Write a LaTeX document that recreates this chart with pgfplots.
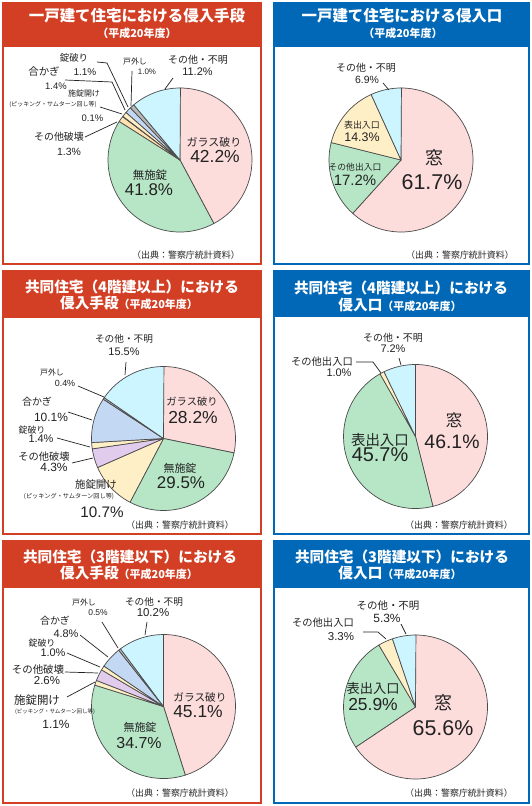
\documentclass[border=0pt]{standalone}
\usepackage{pgfplots}
\pgfplotsset{compat=1.18}
\usepackage{fontspec}
\setmainfont{Noto Sans CJK JP}
\newfontfamily\num{Liberation Sans}
\definecolor{cpink}{HTML}{FDDCDC}
\definecolor{cgreen}{HTML}{B6E6C6}
\definecolor{cyellow}{HTML}{FFEFC6}
\definecolor{corange}{HTML}{FFE2B0}
\definecolor{ccyan}{HTML}{CCF5FF}
\definecolor{clav}{HTML}{E2CCEE}
\definecolor{cblue}{HTML}{C3D8F2}
\definecolor{cgray}{HTML}{B8B8B8}
\definecolor{pieline}{HTML}{4A4A4A}
\definecolor{hred}{HTML}{D23F24}
\definecolor{hblue}{HTML}{0068B7}
\definecolor{txt}{HTML}{222222}
% pie drawn in axis coordinates: values in percent, clockwise from 12 o'clock
\newcommand\pie[1]{%
  \gdef\cum{0}%
  \foreach \v/\c in {#1}{%
    \pgfmathsetmacro\sa{90-3.6*\cum}%
    \pgfmathsetmacro\ea{90-3.6*(\cum+\v)}%
    \filldraw[fill=\c,draw=pieline,line width=0.7bp,line join=round]
      (axis cs:0,0) -- ++(\sa:72bp) arc[start angle=\sa,end angle=\ea,radius=72bp] -- cycle;
    \pgfmathsetmacro\nc{\cum+\v}\xdef\cum{\nc}%
  }}
\newcommand\pieaxis[3]{%
  \begin{axis}[at={(#1bp,-#2bp)},anchor=origin,hide axis,x=72bp,y=72bp,
    xmin=-1,xmax=1,ymin=-1,ymax=1,clip=false]
    \pgfplotsextra{\pie{#3}}
  \end{axis}}
\newcommand\lbl[4]{\node[text=txt,inner sep=0,font=\fontsize{#3}{#3}\selectfont] at (#1,#2) {#4};}
\newcommand\lbn[4]{\node[text=txt,inner sep=0,font=\num\fontsize{#3}{#3}\selectfont] at (#1,#2) {#4};}
\newcommand\ttl[4]{\node[text=white,inner sep=0,font=\bfseries\fontsize{#3}{#3}\selectfont] at (#1,#2) {#4};}
\begin{document}
\begin{tikzpicture}
\begin{scope}[x=1bp,y=-1bp]
% panels
\fill[hred] (2,2) rectangle (262,265);
\fill[white] (4,47) rectangle (260,263);
\fill[hblue] (273,2) rectangle (530,265);
\fill[white] (275,47) rectangle (528,263);
\fill[hred] (2,270) rectangle (262,535);
\fill[white] (4,318) rectangle (260,533);
\fill[hblue] (273,270) rectangle (530,535);
\fill[white] (275,317) rectangle (528,533);
\fill[hred] (2,540) rectangle (262,804);
\fill[white] (4,588) rectangle (260,802);
\fill[hblue] (273,540) rectangle (530,804);
\fill[white] (275,588) rectangle (528,802);
\end{scope}

\pieaxis{180}{160}{42.2/cpink,41.8/cgreen,1.3/corange,0.1/cyellow,1.1/cyellow,1.4/cblue,1.0/cgray,11.2/ccyan}
\pieaxis{401}{160}{61.7/cpink,17.2/cgreen,14.3/cyellow,6.9/ccyan}
\pieaxis{163.5}{438.5}{28.2/cpink,29.5/cgreen,10.7/cyellow,4.3/clav,1.4/cyellow,10.1/cblue,0.4/cgray,15.5/ccyan}
\pieaxis{415.5}{436.5}{46.1/cpink,45.7/cgreen,1.0/cyellow,7.2/ccyan}
\pieaxis{163.5}{706.5}{45.1/cpink,34.7/cgreen,1.1/cyellow,2.6/clav,1.0/cyellow,4.8/cblue,0.5/cgray,10.2/ccyan}
\pieaxis{415.5}{707}{65.6/cpink,25.9/cgreen,3.3/cyellow,5.3/ccyan}

\begin{scope}[x=1bp,y=-1bp]
% titles
\ttl{137}{16}{15.5}{一戸建て住宅における侵入手段}
\ttl{137}{33}{11}{（平成20年度）}
\ttl{402}{16}{15.5}{一戸建て住宅における侵入口}
\ttl{403}{33}{11}{（平成20年度）}
\ttl{132}{287}{14.7}{共同住宅（4階建以上）における}
\node[text=white,inner sep=0] at (129,303) {\bfseries\fontsize{14.7}{15}\selectfont 侵入手段\fontsize{11}{12}\selectfont（平成20年度）};
\ttl{401}{288}{14.7}{共同住宅（4階建以上）における}
\node[text=white,inner sep=0] at (400,305) {\bfseries\fontsize{14.7}{15}\selectfont 侵入口\fontsize{11}{12}\selectfont（平成20年度）};
\ttl{130}{557}{14.7}{共同住宅（3階建以下）における}
\node[text=white,inner sep=0] at (129,573) {\bfseries\fontsize{14.7}{15}\selectfont 侵入手段\fontsize{11}{12}\selectfont（平成20年度）};
\ttl{402}{557}{14.7}{共同住宅（3階建以下）における}
\node[text=white,inner sep=0] at (400,573) {\bfseries\fontsize{14.7}{15}\selectfont 侵入口\fontsize{11}{12}\selectfont（平成20年度）};

% leader lines
\begin{scope}[draw=txt,line width=0.7bp]
\draw (97,62)--(107,63)--(128,107);
\draw (65,80)--(112,82)--(125,110);
\draw (100,107)--(122,114);
\draw (85,137)--(117,122);
\draw (132,71)--(131,106);
\draw (173,78)--(165,89);
\draw (383,83)--(389,90);
\draw (126,362)--(125,375);
\draw (78,386)--(104,397);
\draw (68,412)--(92,420);
\draw (57,438)--(90,447);
\draw (72,463)--(93,458);
\draw (399,358)--(401,365);
\draw (356,362)--(373,362)--(381,373);
\draw (102,622)--(118,648);
\draw (147,622)--(145,635);
\draw (80,635)--(108,657);
\draw (67,653)--(100,667);
\draw (65,672)--(98,673);
\draw (67,697)--(95,682);
\draw (401,624)--(406,634);
\draw (363,632)--(378,632)--(386,639);
\end{scope}

% panel 1
\lbl{74}{58}{9.5}{錠破り}
\lbn{85}{72}{10}{1.1\%}
\lbl{44}{72}{10.5}{合かぎ}
\lbn{56}{86}{9.5}{1.4\%}
\lbl{84}{93}{8}{施錠開け}
\lbl{53}{105}{6}{(ピッキング・サムターン回し等)}
\lbn{92.5}{118}{9.5}{0.1\%}
\lbl{59}{137}{10}{その他破壊}
\lbn{69}{152}{10.5}{1.3\%}
\lbl{135}{61}{8}{戸外し}
\lbn{147}{72}{8}{1.0\%}
\lbl{198}{60}{10}{その他・不明}
\lbn{197.5}{72}{11}{11.2\%}
\lbl{214}{142}{11}{ガラス破り}
\lbn{215}{156}{17.5}{42.2\%}
\lbl{150}{175}{11.5}{無施錠}
\lbn{149}{190}{17}{41.8\%}
\lbl{186}{255}{9}{（出典：警察庁統計資料）}
% panel 2
\lbl{366}{68}{10}{その他・不明}
\lbn{367}{80}{10.5}{6.9\%}
\lbl{362}{125}{9}{表出入口}
\lbn{362}{137}{12.5}{14.3\%}
\lbl{355}{167}{8.8}{その他出入口}
\lbn{355}{180}{15}{17.2\%}
\lbl{434}{158}{18}{窓}
\lbn{432}{182}{21.5}{61.7\%}
\lbl{460}{255}{9}{（出典：警察庁統計資料）}
% panel 3
\lbl{124}{339}{9.7}{その他・不明}
\lbn{124}{352}{11}{15.5\%}
\lbl{52}{372}{8}{戸外し}
\lbn{65}{383}{9}{0.4\%}
\lbl{37}{402}{10}{合かぎ}
\lbn{51}{417}{12}{10.1\%}
\lbl{32}{430}{9}{錠破り}
\lbn{41}{439}{11}{1.4\%}
\lbl{44}{457}{10.3}{その他破壊}
\lbn{54}{467}{12}{4.3\%}
\lbl{96}{485}{10.5}{施錠開け}
\lbl{69}{496}{6.2}{(ピッキング・サムターン回し等)}
\lbn{102}{512}{15.3}{10.7\%}
\lbl{192}{402}{10.3}{ガラス破り}
\lbn{193}{417}{17.5}{28.2\%}
\lbl{180}{468}{11}{無施錠}
\lbn{181}{483}{17}{29.5\%}
\lbl{180}{525}{9}{（出典：警察庁統計資料）}
% panel 4
\lbl{393}{338}{10}{その他・不明}
\lbn{393}{349}{11}{7.2\%}
\lbl{322}{362}{10.3}{その他出入口}
\lbn{339}{373}{11}{1.0\%}
\lbl{454}{420}{16.5}{窓}
\lbn{452}{442}{19.5}{46.1\%}
\lbl{380}{440}{14.5}{表出入口}
\lbn{380}{455}{20}{45.7\%}
\lbl{459}{525}{9}{（出典：警察庁統計資料）}
% panel 5
\lbl{84}{602}{8}{戸外し}
\lbn{98}{613}{8.5}{0.5\%}
\lbl{154}{602}{9.7}{その他・不明}
\lbn{153}{613}{11.5}{10.2\%}
\lbl{55}{621}{10}{合かぎ}
\lbn{66}{634}{11}{4.8\%}
\lbl{42}{643}{9}{錠破り}
\lbn{53}{653}{11}{1.0\%}
\lbl{38}{670}{10.5}{その他破壊}
\lbn{47}{681}{11.5}{2.6\%}
\lbl{37}{700}{11.5}{施錠開け}
\lbl{55}{712}{5.5}{(ピッキング・サムターン回し等)}
\lbn{56}{724}{12}{1.1\%}
\lbl{200}{697}{10.7}{ガラス破り}
\lbn{198}{712}{17.5}{45.1\%}
\lbl{140}{727}{11}{無施錠}
\lbn{139}{743}{16}{34.7\%}
\lbl{180}{793}{9}{（出典：警察庁統計資料）}
% panel 6
\lbl{388}{606}{10.5}{その他・不明}
\lbn{387}{618}{12}{5.3\%}
\lbl{323}{623}{10.3}{その他出入口}
\lbn{341}{637}{11.5}{3.3\%}
\lbl{373}{688}{13.3}{表出入口}
\lbn{373}{704}{17.5}{25.9\%}
\lbl{443}{703}{18}{窓}
\lbn{443}{728}{21.5}{65.6\%}
\lbl{459}{793}{9}{（出典：警察庁統計資料）}
\end{scope}
\pgfresetboundingbox
\path[use as bounding box] (0,0) rectangle (532bp,-806bp);
\end{tikzpicture}
\end{document}
